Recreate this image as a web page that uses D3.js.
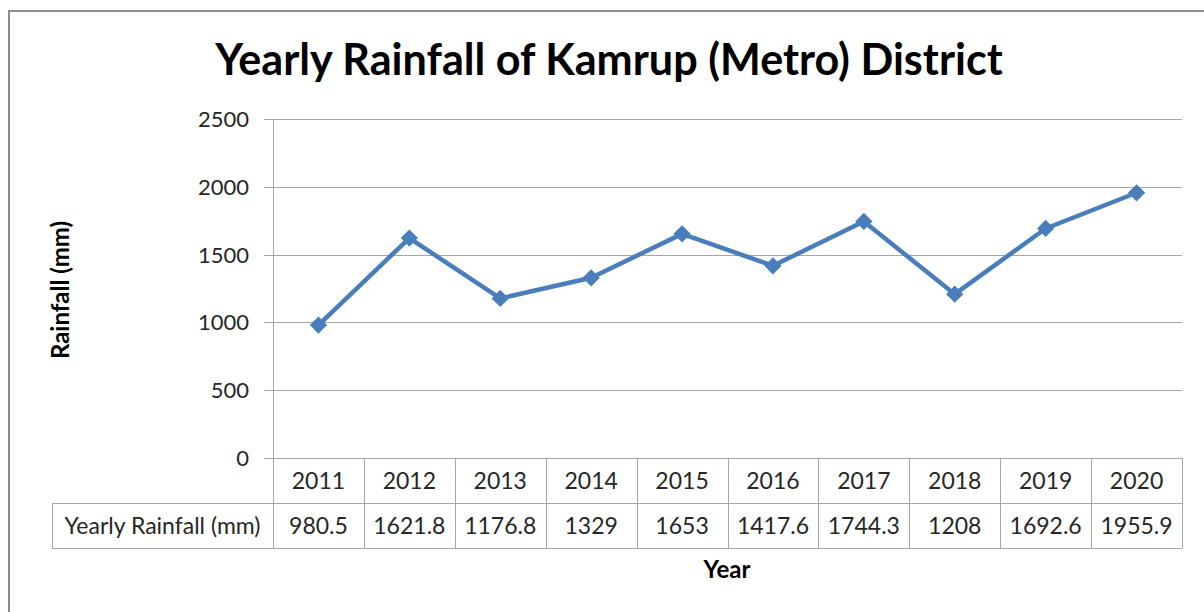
<!DOCTYPE html>
<html>
<head>
<meta charset="utf-8">
<script src="https://cdn.jsdelivr.net/npm/d3@7"></script>
<style>
  body { margin: 0; background: #fff; }
  svg text { font-family: Lato, "Open Sans", sans-serif; }
</style>
</head>
<body>
<svg id="chart" width="1204" height="612"></svg>
<script>
// chart data
var years = [ '2011', '2012', '2013', '2014', '2015', '2016', '2017', '2018', '2019', '2020' ];
var rainfall = [ 980.5, 1621.8, 1176.8, 1329, 1653, 1417.6, 1744.3, 1208, 1692.6, 1955.9 ];
var rainfallLabels = [ '980.5', '1621.8', '1176.8', '1329', '1653', '1417.6', '1744.3', '1208', '1692.6', '1955.9' ];
var yTicks = [ 0, 500, 1000, 1500, 2000, 2500 ];
var seriesName = 'Yearly Rainfall (mm)';

var svg = d3.select( '#chart' );
var plotLeft = 273, plotRight = 1182, plotTop = 119, plotBottom = 458;
var rowH = 45, labelLeft = 52;
var gridColor = '#a6a6a6', textColor = '#262626';
var tableFont = 23, tickFont = 22, axisFont = 24;

// outer frame
svg.append( 'rect' )
    .attr( 'x', 9 ).attr( 'y', 11 )
    .attr( 'width', 1210 ).attr( 'height', 620 )
    .attr( 'fill', 'none' )
    .attr( 'stroke', '#8c8c8c' )
    .attr( 'stroke-width', 2 );

var x = d3.scaleBand().domain( years ).range( [ plotLeft, plotRight ] );
var y = d3.scaleLinear().domain( [ 0, 2500 ] ).range( [ plotBottom, plotTop ] );

// gridlines + ticks
svg.selectAll( '.grid' )
    .data( yTicks )
    .enter().append( 'line' )
    .attr( 'x1', plotLeft - 9 ).attr( 'x2', plotRight )
    .attr( 'y1', function( d ) { return Math.round( y( d ) ) + 0.5; } )
    .attr( 'y2', function( d ) { return Math.round( y( d ) ) + 0.5; } )
    .attr( 'stroke', gridColor )
    .attr( 'stroke-width', 1 );

svg.selectAll( '.ylab' )
    .data( yTicks )
    .enter().append( 'text' )
    .attr( 'x', 249 )
    .attr( 'y', function( d ) { return y( d ) + 8; } )
    .attr( 'text-anchor', 'end' )
    .attr( 'font-size', tickFont )
    .attr( 'fill', textColor )
    .text( function( d ) { return d; } );

// y axis line runs down through the table header
svg.append( 'line' )
    .attr( 'x1', plotLeft + 0.5 ).attr( 'x2', plotLeft + 0.5 )
    .attr( 'y1', plotTop ).attr( 'y2', plotBottom + rowH * 2 )
    .attr( 'stroke', gridColor );

// data table
var cols = years.map( function( d ) { return Math.round( x( d ) + x.bandwidth() ) + 0.5; } );
svg.selectAll( '.col' )
    .data( cols )
    .enter().append( 'line' )
    .attr( 'x1', function( d ) { return d; } )
    .attr( 'x2', function( d ) { return d; } )
    .attr( 'y1', plotBottom ).attr( 'y2', plotBottom + rowH * 2 )
    .attr( 'stroke', gridColor );

[ rowH, rowH * 2 ].forEach( function( dy ) {
    svg.append( 'line' )
        .attr( 'x1', labelLeft ).attr( 'x2', plotRight )
        .attr( 'y1', plotBottom + dy + 0.5 ).attr( 'y2', plotBottom + dy + 0.5 )
        .attr( 'stroke', gridColor );
});
svg.append( 'line' )
    .attr( 'x1', labelLeft + 0.5 ).attr( 'x2', labelLeft + 0.5 )
    .attr( 'y1', plotBottom + rowH ).attr( 'y2', plotBottom + rowH * 2 )
    .attr( 'stroke', gridColor );

svg.selectAll( '.year' )
    .data( years )
    .enter().append( 'text' )
    .attr( 'x', function( d ) { return x( d ) + x.bandwidth() / 2; } )
    .attr( 'y', plotBottom + 31 )
    .attr( 'text-anchor', 'middle' )
    .attr( 'font-size', tableFont )
    .attr( 'fill', textColor )
    .text( function( d ) { return d; } );

svg.selectAll( '.val' )
    .data( rainfallLabels )
    .enter().append( 'text' )
    .attr( 'x', function( d, i ) { return x( years[ i ] ) + x.bandwidth() / 2; } )
    .attr( 'y', plotBottom + rowH + 31 )
    .attr( 'text-anchor', 'middle' )
    .attr( 'font-size', tableFont )
    .attr( 'fill', textColor )
    .text( function( d ) { return d; } );

svg.append( 'text' )
    .attr( 'x', ( labelLeft + plotLeft ) / 2 )
    .attr( 'y', plotBottom + rowH + 31 )
    .attr( 'text-anchor', 'middle' )
    .attr( 'font-size', tableFont )
    .attr( 'fill', textColor )
    .text( seriesName );

// the line
var line = d3.line()
    .x( function( d, i ) { return x( years[ i ] ) + x.bandwidth() / 2; } )
    .y( function( d ) { return y( d ); } );

svg.append( 'path' )
    .datum( rainfall )
    .attr( 'd', line )
    .attr( 'fill', 'none' )
    .attr( 'stroke', '#4a7ebb' )
    .attr( 'stroke-width', 4.5 )
    .attr( 'stroke-linejoin', 'round' );

svg.selectAll( '.marker' )
    .data( rainfall )
    .enter().append( 'path' )
    .attr( 'd', d3.symbol().type( d3.symbolDiamond2 ).size( 190 ) )
    .attr( 'transform', function( d, i ) {
        return 'translate(' + ( x( years[ i ] ) + x.bandwidth() / 2 ) + ',' + y( d ) + ')';
    })
    .attr( 'fill', '#4a7ebb' );

// titles
var title = svg.append( 'text' )
    .attr( 'x', 609 ).attr( 'y', 75 )
    .attr( 'text-anchor', 'middle' )
    .attr( 'font-size', 38 )
    .attr( 'font-weight', 'bold' )
    .attr( 'fill', '#000' )
    .text( 'Yearly Rainfall of Kamrup (Metro) District' );
var tw = title.node().getComputedTextLength();
title.attr( 'font-size', 38 * 788 / tw );

svg.append( 'text' )
    .attr( 'transform', 'translate(69,290) rotate(-90)' )
    .attr( 'text-anchor', 'middle' )
    .attr( 'font-size', axisFont )
    .attr( 'font-weight', 'bold' )
    .attr( 'fill', '#000' )
    .text( 'Rainfall (mm)' );

svg.append( 'text' )
    .attr( 'x', 727 ).attr( 'y', 578 )
    .attr( 'text-anchor', 'middle' )
    .attr( 'font-size', axisFont )
    .attr( 'font-weight', 'bold' )
    .attr( 'fill', '#000' )
    .text( 'Year' );
</script>
</body>
</html>
